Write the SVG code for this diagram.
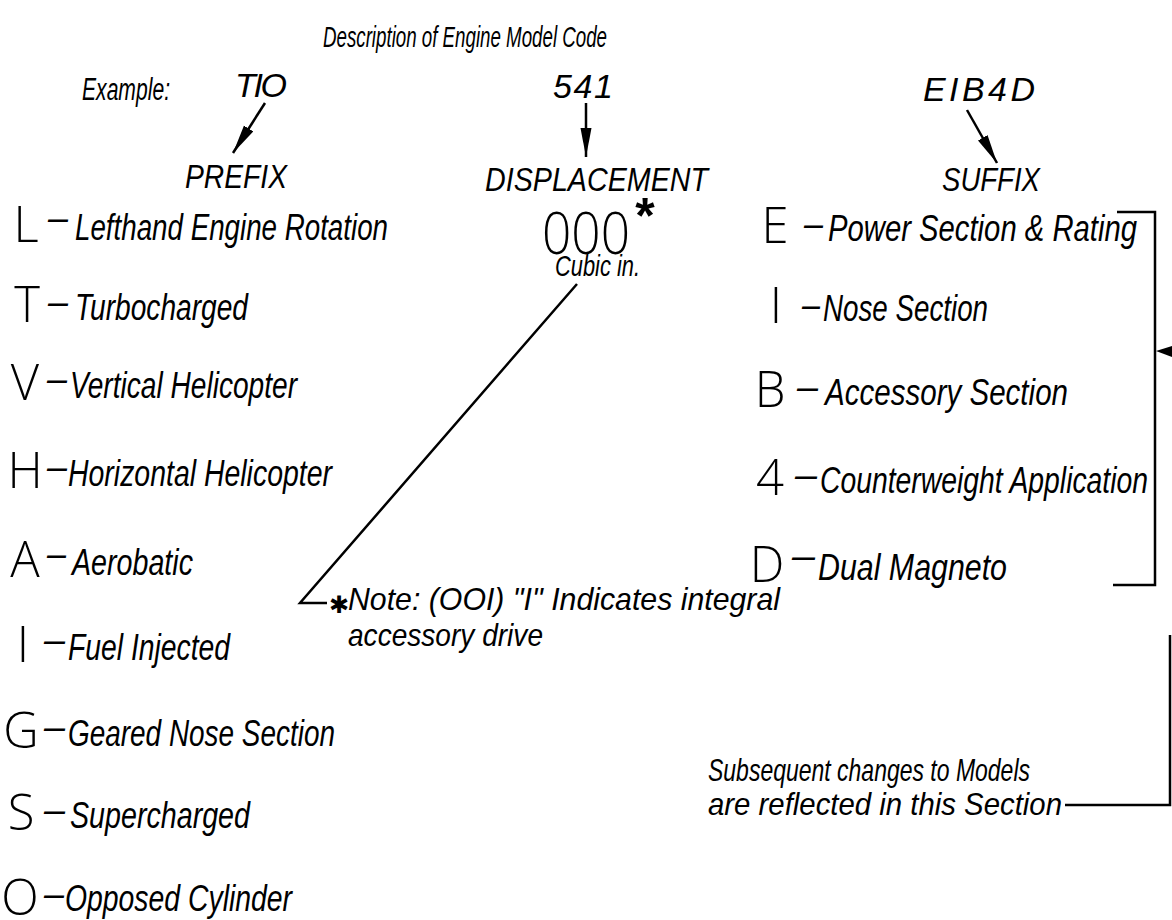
<svg xmlns="http://www.w3.org/2000/svg" width="1172" height="920" viewBox="0 0 1172 920">
<defs>
<style>
.code{font-family:"Open Sans","Liberation Sans",sans-serif;font-weight:300;font-size:49px;text-anchor:middle;fill:#000}
.desc{font-family:"Liberation Sans",Arial,sans-serif;font-style:italic;font-size:36px;fill:#000}
.head{font-family:"Liberation Sans",Arial,sans-serif;font-style:italic;font-size:34px;fill:#000}
.small{font-family:"Liberation Sans",Arial,sans-serif;font-style:italic;font-size:32px;fill:#000}
.ln{stroke:#000;stroke-width:2.5;fill:none}
</style>
<marker id="ah" markerUnits="userSpaceOnUse" markerWidth="30" markerHeight="12" refX="29" refY="6" orient="auto">
<path d="M0,0.5 L29,6 L0,11.5 Z" fill="#000"/>
</marker>
</defs>
<rect width="1172" height="920" fill="#fff"/>

<g id="title">
<text class="head" x="323" y="47" style="font-size:30px" textLength="284" lengthAdjust="spacingAndGlyphs">Description of Engine Model Code</text>
</g>

<g id="example">
<text class="head" x="82" y="100" style="font-size:31px" textLength="88" lengthAdjust="spacingAndGlyphs">Example:</text>
<text class="head" x="235" y="97" style="font-size:34px" textLength="52" lengthAdjust="spacing">TIO</text>
<text class="head" x="553" y="98" style="font-size:34px" textLength="60" lengthAdjust="spacing">541</text>
<text class="head" x="923" y="101" style="font-size:34px" textLength="112" lengthAdjust="spacing">EIB4D</text>
</g>

<g id="prefix-header"><text class="head" x="185" y="188" textLength="102" lengthAdjust="spacingAndGlyphs">PREFIX</text></g>
<g id="displacement-header"><text class="head" x="485" y="191" textLength="223" lengthAdjust="spacingAndGlyphs">DISPLACEMENT</text></g>
<g id="suffix-header"><text class="head" x="942" y="191" textLength="98" lengthAdjust="spacingAndGlyphs">SUFFIX</text></g>

<g id="displacement">
<text class="code" x="542" y="254" style="font-size:58px;text-anchor:start" textLength="88" lengthAdjust="spacingAndGlyphs">000</text>
<text x="645" y="233" style="font-family:'Liberation Sans',sans-serif;font-weight:bold;font-size:50px;text-anchor:middle">*</text>
<text class="small" x="555" y="276" style="font-size:29px" textLength="85" lengthAdjust="spacingAndGlyphs">Cubic in.</text>
</g>

<g id="note">
<text x="329" y="613" style="font-family:'DejaVu Sans',sans-serif;font-weight:bold;font-size:24px">✱</text>
<text class="small" x="348" y="610" textLength="432" lengthAdjust="spacingAndGlyphs">Note: (OOI) "I" Indicates integral</text>
<text class="small" x="348" y="646" textLength="195" lengthAdjust="spacingAndGlyphs">accessory drive</text>
</g>

<g id="prefix-L"><text class="code" x="26" y="242">L</text><text class="desc" x="48" y="230" textLength="20" lengthAdjust="spacingAndGlyphs">–</text><text class="desc" x="75" y="240" textLength="313" lengthAdjust="spacingAndGlyphs">Lefthand Engine Rotation</text></g>
<g id="prefix-T"><text class="code" x="27" y="322">T</text><text class="desc" x="48" y="314" textLength="20" lengthAdjust="spacingAndGlyphs">–</text><text class="desc" x="75" y="320" textLength="173" lengthAdjust="spacingAndGlyphs">Turbocharged</text></g>
<g id="prefix-V"><text class="code" x="25" y="400">V</text><text class="desc" x="47" y="391" textLength="20" lengthAdjust="spacingAndGlyphs">–</text><text class="desc" x="70" y="398" textLength="227" lengthAdjust="spacingAndGlyphs">Vertical Helicopter</text></g>
<g id="prefix-H"><text class="code" x="25" y="488">H</text><text class="desc" x="47" y="479" textLength="20" lengthAdjust="spacingAndGlyphs">–</text><text class="desc" x="68" y="486" textLength="264" lengthAdjust="spacingAndGlyphs">Horizontal Helicopter</text></g>
<g id="prefix-A"><text class="code" x="25" y="577">A</text><text class="desc" x="47" y="566" textLength="19" lengthAdjust="spacingAndGlyphs">–</text><text class="desc" x="72" y="575" textLength="121" lengthAdjust="spacingAndGlyphs">Aerobatic</text></g>
<g id="prefix-I"><text class="code" x="23" y="662">I</text><text class="desc" x="44" y="652" textLength="21" lengthAdjust="spacingAndGlyphs">–</text><text class="desc" x="68" y="660" textLength="162" lengthAdjust="spacingAndGlyphs">Fuel Injected</text></g>
<g id="prefix-G"><text class="code" x="21" y="748">G</text><text class="desc" x="44" y="739" textLength="21" lengthAdjust="spacingAndGlyphs">–</text><text class="desc" x="68" y="746" textLength="267" lengthAdjust="spacingAndGlyphs">Geared Nose Section</text></g>
<g id="prefix-S"><text class="code" x="21" y="830">S</text><text class="desc" x="44" y="822" textLength="21" lengthAdjust="spacingAndGlyphs">–</text><text class="desc" x="70" y="828" textLength="180" lengthAdjust="spacingAndGlyphs">Supercharged</text></g>
<g id="prefix-O"><text class="code" x="20" y="915">O</text><text class="desc" x="44" y="906" textLength="20" lengthAdjust="spacingAndGlyphs">–</text><text class="desc" x="65" y="911" textLength="227" lengthAdjust="spacingAndGlyphs">Opposed Cylinder</text></g>

<g id="suffix-E"><text class="code" x="775" y="243">E</text><text class="desc" x="804" y="236" textLength="19" lengthAdjust="spacingAndGlyphs">–</text><text class="desc" x="828" y="241" textLength="309" lengthAdjust="spacingAndGlyphs">Power Section &amp; Rating</text></g>
<g id="suffix-I"><text class="code" x="776" y="323">I</text><text class="desc" x="802" y="317" textLength="18" lengthAdjust="spacingAndGlyphs">–</text><text class="desc" x="823" y="321" textLength="165" lengthAdjust="spacingAndGlyphs">Nose Section</text></g>
<g id="suffix-B"><text class="code" x="770" y="407">B</text><text class="desc" x="797" y="399" textLength="21" lengthAdjust="spacingAndGlyphs">–</text><text class="desc" x="825" y="405" textLength="243" lengthAdjust="spacingAndGlyphs">Accessory Section</text></g>
<g id="suffix-4"><text class="code" x="770" y="495">4</text><text class="desc" x="795" y="487" textLength="22" lengthAdjust="spacingAndGlyphs">–</text><text class="desc" x="820" y="493" textLength="328" lengthAdjust="spacingAndGlyphs">Counterweight Application</text></g>
<g id="suffix-D"><text class="code" x="767" y="582">D</text><text class="desc" x="792" y="568" textLength="23" lengthAdjust="spacingAndGlyphs">–</text><text class="desc" x="818" y="580" textLength="189" lengthAdjust="spacingAndGlyphs">Dual Magneto</text></g>

<g id="changes-note">
<text class="small" x="708" y="781" textLength="322" lengthAdjust="spacingAndGlyphs">Subsequent changes to Models</text>
<text class="small" x="708" y="815" textLength="354" lengthAdjust="spacingAndGlyphs">are reflected in this Section</text>
</g>

<g id="connectors">
<line class="ln" x1="265" y1="103" x2="233" y2="153" marker-end="url(#ah)"/>
<line class="ln" x1="586" y1="103" x2="586" y2="157" marker-end="url(#ah)"/>
<line class="ln" x1="967" y1="110" x2="997" y2="163" marker-end="url(#ah)"/>
<path class="ln" d="M577,284 L300,603 H327"/>
<path class="ln" d="M1117,212 H1155 V585 H1113"/>
<polygon points="1156,351 1172,346 1172,357" fill="#000"/>
<path class="ln" d="M1065,805 H1170 V635"/>
</g>
</svg>
